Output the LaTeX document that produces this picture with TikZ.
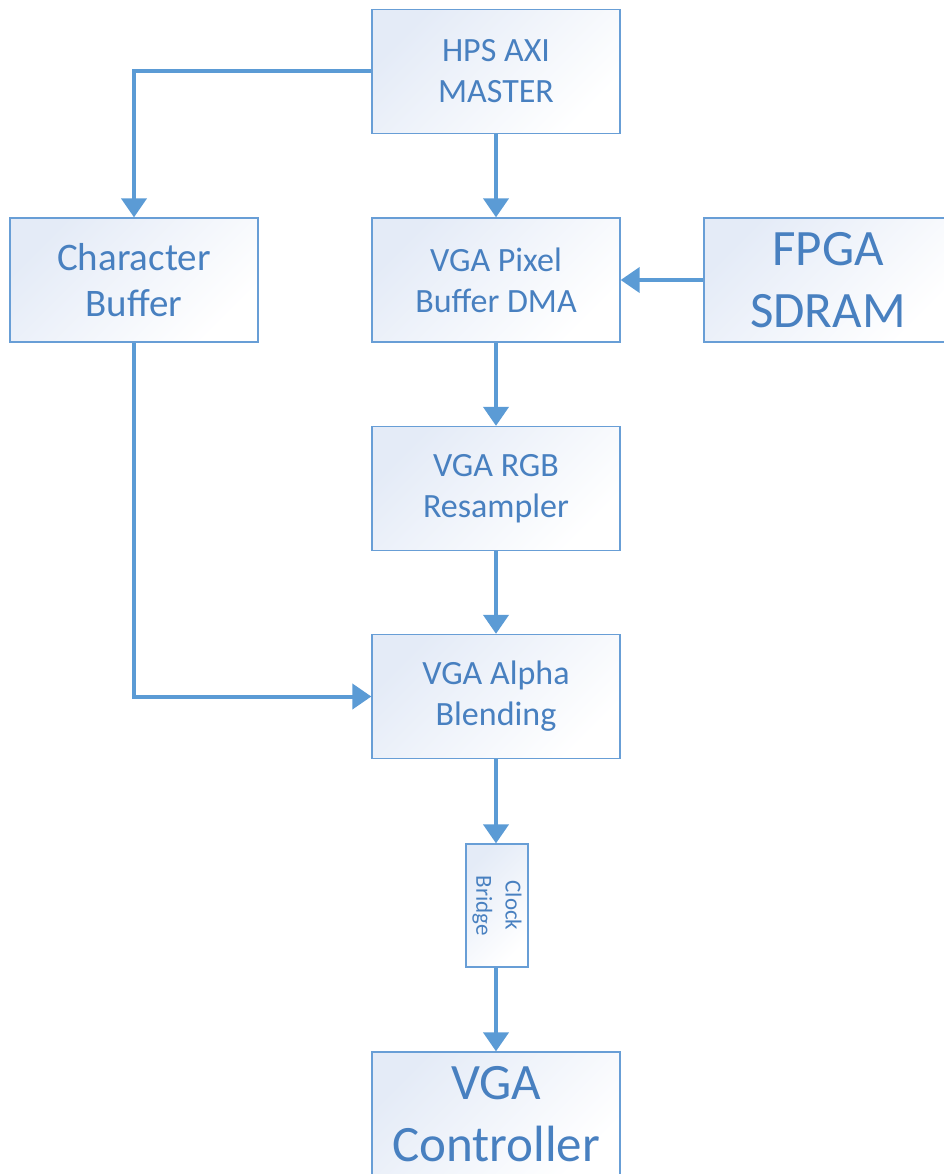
\documentclass[tikz,border=0pt]{standalone}
\usepackage{fontspec}
\setmainfont{Carlito}
\usetikzlibrary{arrows.meta}

\definecolor{boxline}{RGB}{104,158,214}
\definecolor{boxtext}{RGB}{72,128,192}
\definecolor{boxtint}{RGB}{228,235,247}
\definecolor{flow}{RGB}{91,155,213}

\tikzset{
  block/.style={draw=boxline, line width=1.3pt, top color=boxtint, bottom color=white,
    shading angle=45, minimum width=248pt, minimum height=124pt, inner sep=0pt,
    align=center, text=boxtext, font=\fontsize{34}{41}\selectfont},
  bigblock/.style={block, font=\fontsize{51}{62}\selectfont},
  flowarrow/.style={draw=flow, line width=4pt, -{Triangle[length=19pt,width=25pt]}},
}

\begin{document}
\begin{tikzpicture}[x=1pt, y=-1pt]
  \useasboundingbox (0,0) rectangle (943,1174);

  % processing chain
  \node[block] (hps) at (496,71.5) {HPS AXI\\MASTER};
  \node[block, font=\fontsize{39}{46}\selectfont] (char) at (134,280) {Character\\Buffer};
  \node[block] (pixel) at (496,280) {VGA Pixel\\Buffer DMA};
  \node[bigblock] (sdram) at (828,280) {FPGA\\SDRAM};
  \node[block] (rgb) at (496,488.5) {VGA RGB\\Resampler};
  \node[block] (alpha) at (496,696.5) {VGA Alpha\\Blending};
  \node[block, minimum width=62pt, minimum height=123pt] (clock) at (497,905.5) {};
  \node[rotate=-90, align=center, text=boxtext, inner sep=0pt,
        font=\fontsize{23}{29}\selectfont] (clocklabel) at (clock.center) {Clock\\Bridge};
  \node[bigblock] (ctrl) at (496,1114) {VGA\\Controller};

  % data paths
  \draw[flowarrow] (hps.west) -| (char.north);
  \draw[flowarrow] (hps.south) -- (pixel.north);
  \draw[flowarrow] (sdram.west) -- (pixel.east);
  \draw[flowarrow] (pixel.south) -- (rgb.north);
  \draw[flowarrow] (rgb.south) -- (alpha.north);
  \draw[flowarrow] (char.south) |- (alpha.west);
  \draw[flowarrow] (alpha.south) -- (alpha.south |- clock.north);
  \draw[flowarrow] (clock.south -| ctrl.north) -- (ctrl.north);
\end{tikzpicture}
\end{document}
